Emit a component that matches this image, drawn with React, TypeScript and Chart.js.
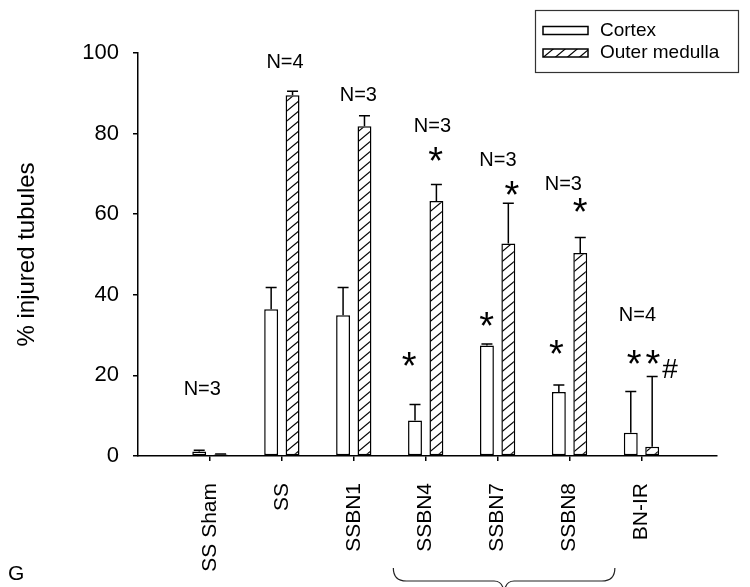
import React, { useEffect, useRef } from "react";
import { Chart, registerables } from "chart.js";

Chart.register(...registerables);

// ---- data ----
const categories = ["SS Sham", "SS", "SSBN1", "SSBN4", "SSBN7", "SSBN8", "BN-IR"];
const cortex = [1.1, 36.4, 34.9, 8.8, 27.4, 15.9, 5.8];
const cortexErr = [0.3, 5.4, 6.9, 4.0, 0.4, 1.7, 10.2];
const medulla = [0.4, 89.5, 81.8, 63.3, 52.7, 50.4, 2.3];
const medullaErr = [0.1, 1.0, 2.6, 4.1, 10.0, 3.8, 17.4];
const seriesNames = ["Cortex", "Outer medulla"];
const yTicks = [0, 20, 40, 60, 80, 100];

// annotations: text, x (category units), y (value units)
const noteText = ["N=3", "N=4", "N=3", "N=3", "*", "*", "N=3", "*", "*", "N=3", "*", "*", "N=4", "*", "*", "#"];
const noteX = [-0.1, 1.05, 2.07, 3.1, 3.14, 2.77, 4.01, 4.2, 3.85, 4.92, 5.15, 4.82, 5.95, 5.9, 6.16, 6.4];
const noteY = [16.9, 98.1, 89.8, 82.1, 74.9, 24.0, 73.8, 66.5, 34.0, 67.7, 62.2, 27.0, 35.2, 24.6, 24.6, 21.7];

const FONT = "'Liberation Sans', Arial, Helvetica, sans-serif";

function makeHatch(): CanvasPattern | string {
  const c = document.createElement("canvas");
  const w = 12;
  const h = 10;
  c.width = w;
  c.height = h;
  const g = c.getContext("2d");
  if (!g) return "#fff";
  g.fillStyle = "#fff";
  g.fillRect(0, 0, w, h);
  g.strokeStyle = "#000";
  g.lineWidth = 1.2;
  for (let k = -1; k <= 1; k++) {
    g.beginPath();
    g.moveTo(-3, h + k * h + (3 * h) / w);
    g.lineTo(w + 3, k * h - (3 * h) / w);
    g.stroke();
  }
  return g.createPattern(c, "repeat") || "#fff";
}

function drawCentered(ctx: CanvasRenderingContext2D, text: string, cx: number, cy: number) {
  ctx.textAlign = "left";
  ctx.textBaseline = "alphabetic";
  const m = ctx.measureText(text);
  const l = m.actualBoundingBoxLeft;
  const r = m.actualBoundingBoxRight;
  const a = m.actualBoundingBoxAscent;
  const d = m.actualBoundingBoxDescent;
  const x = cx - (r - l) / 2;
  const y = cy + (a - d) / 2;
  ctx.fillText(text, x, y);
}

export default function App() {
  const ref = useRef<HTMLCanvasElement>(null);

  useEffect(() => {
    const canvas = ref.current;
    if (!canvas) return;
    const hatch = makeHatch();
    const errs = [cortexErr, medullaErr];

    const errorBars = {
      id: "errorBars",
      afterDatasetsDraw(chart: any) {
        const ctx = chart.ctx as CanvasRenderingContext2D;
        const ys = chart.scales.y;
        ctx.save();
        ctx.strokeStyle = "#000";
        ctx.lineWidth = 1.5;
        chart.data.datasets.forEach((ds: any, di: number) => {
          const meta = chart.getDatasetMeta(di);
          meta.data.forEach((bar: any, i: number) => {
            const v = ds.data[i].y;
            const e = errs[di][i];
            const x = bar.x;
            const yb = ys.getPixelForValue(v);
            const yt = ys.getPixelForValue(v + e);
            ctx.beginPath();
            ctx.moveTo(x, yb);
            ctx.lineTo(x, yt);
            ctx.moveTo(x - 5.5, yt);
            ctx.lineTo(x + 5.5, yt);
            ctx.stroke();
          });
        });
        ctx.restore();
      },
    };

    const extras = {
      id: "extras",
      afterDraw(chart: any) {
        const ctx = chart.ctx as CanvasRenderingContext2D;
        const xs = chart.scales.x;
        const ys = chart.scales.y;
        ctx.save();
        ctx.fillStyle = "#000";
        // annotations
        noteText.forEach((t, i) => {
          const size = t === "*" ? 38 : t === "#" ? 28 : 20;
          ctx.font = `${size}px ${FONT}`;
          drawCentered(ctx, t, xs.getPixelForValue(noteX[i]), ys.getPixelForValue(noteY[i]));
        });

        // legend
        ctx.strokeStyle = "#333";
        ctx.lineWidth = 1.2;
        ctx.strokeRect(535.5, 10.5, 203, 62);
        const rows = [30.5, 53];
        chart.data.datasets.forEach((ds: any, i: number) => {
          const cy = rows[i];
          ctx.fillStyle = ds.backgroundColor;
          ctx.fillRect(543, cy - 4, 45, 8);
          ctx.strokeStyle = "#000";
          ctx.lineWidth = 1.5;
          ctx.strokeRect(543, cy - 4, 45, 8);
          ctx.fillStyle = "#000";
          ctx.font = `19px ${FONT}`;
          ctx.textAlign = "left";
          ctx.textBaseline = "middle";
          ctx.fillText(ds.label, 600, cy);
        });

        // brace under SSBN4..SSBN8
        const L = xs.getPixelForValue(2.55);
        const R = xs.getPixelForValue(5.63);
        const M = (L + R) / 2;
        ctx.strokeStyle = "#222";
        ctx.lineWidth = 1.2;
        ctx.beginPath();
        ctx.moveTo(L, 568);
        ctx.quadraticCurveTo(L, 581, L + 13, 581);
        ctx.lineTo(M - 10, 581);
        ctx.quadraticCurveTo(M, 581, M, 596);
        ctx.quadraticCurveTo(M, 581, M + 10, 581);
        ctx.lineTo(R - 13, 581);
        ctx.quadraticCurveTo(R, 581, R, 568);
        ctx.stroke();

        // panel letter
        ctx.fillStyle = "#000";
        ctx.font = `21px ${FONT}`;
        ctx.textAlign = "left";
        ctx.textBaseline = "alphabetic";
        ctx.fillText("G", 8, 580);
        ctx.restore();
      },
    };

    const chart = new Chart(canvas, {
      type: "bar",
      data: {
        datasets: [
          {
            label: seriesNames[0],
            data: categories.map((_, i) => ({ x: i, y: cortex[i] })),
            backgroundColor: "#ffffff",
            borderColor: "#000",
            borderWidth: 1.5,
            borderSkipped: false,
          },
          {
            label: seriesNames[1],
            data: categories.map((_, i) => ({ x: i, y: medulla[i] })),
            backgroundColor: hatch as any,
            borderColor: "#000",
            borderWidth: 1.5,
            borderSkipped: false,
          },
        ],
      },
      options: {
        responsive: false,
        devicePixelRatio: 1,
        animation: false,
        categoryPercentage: 0.595,
        barPercentage: 0.65,
        layout: { padding: { top: 53, right: 33, left: 0, bottom: 0 } },
        plugins: { legend: { display: false }, tooltip: { enabled: false }, title: { display: false } },
        scales: {
          x: {
            type: "linear",
            min: -1,
            max: 7.05,
            offset: false,
            afterBuildTicks: (s: any) => {
              s.ticks = categories.map((_, i) => ({ value: i }));
            },
            afterFit: (s: any) => {
              s.height = 131;
            },
            ticks: {
              autoSkip: false,
              minRotation: 90,
              maxRotation: 90,
              padding: 22,
              color: "#000",
              font: { size: 21, family: FONT },
              callback: (v: any) => categories[Math.round(Number(v))] ?? "",
            },
            grid: {
              display: true,
              offset: false,
              drawOnChartArea: false,
              drawTicks: true,
              tickLength: 5,
              color: "#000",
              lineWidth: 1.5,
            },
            border: { display: true, color: "#000", width: 1.5 },
          },
          y: {
            type: "linear",
            min: 0,
            max: 100,
            afterBuildTicks: (s: any) => {
              s.ticks = yTicks.map((v) => ({ value: v }));
            },
            afterFit: (s: any) => {
              s.width = 138;
            },
            ticks: {
              padding: 14,
              color: "#000",
              font: { size: 22, family: FONT },
            },
            grid: {
              display: true,
              drawOnChartArea: false,
              drawTicks: true,
              tickLength: 5,
              color: "#000",
              lineWidth: 1.5,
            },
            border: { display: true, color: "#000", width: 1.5 },
            title: {
              display: true,
              text: "% injured tubules",
              color: "#000",
              font: { size: 24, family: FONT },
              padding: { top: 13, bottom: 0 },
            },
          },
        },
      } as any,
      plugins: [errorBars, extras],
    });

    return () => chart.destroy();
  }, []);

  return (
    <div style={{ position: "fixed", left: 0, top: 0, width: 750, height: 587, background: "#fff" }}>
      <canvas ref={ref} width={750} height={587} style={{ display: "block", width: 750, height: 587 }} />
    </div>
  );
}
